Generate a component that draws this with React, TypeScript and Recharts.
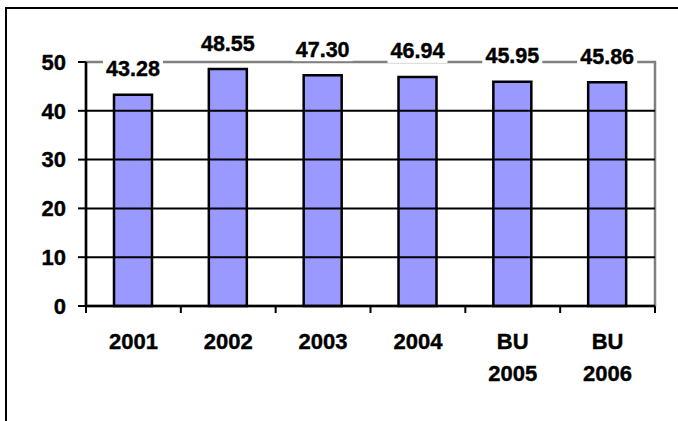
import { Bar, BarChart, LabelList, ReferenceArea, ReferenceLine, XAxis, YAxis } from "recharts";

const categories = ["2001", "2002", "2003", "2004", "BU\n2005", "BU\n2006"];
const values = [43.28, 48.55, 47.3, 46.94, 45.95, 45.86];
const yTicks = [0, 10, 20, 30, 40, 50];
const gridValues = [10, 20, 30, 40];

const chartData = categories.map((c, i) => ({ name: c, value: values[i] }));

const FONT = "'Liberation Sans', Arial, sans-serif";
const PLOT_LEFT = 86;
const PLOT_RIGHT = 655;
const BAND = (PLOT_RIGHT - PLOT_LEFT) / categories.length;

function XTick(props: any) {
  const { x, y, payload, index } = props;
  const lines = String(payload.value).split("\n");
  return (
    <g>
      <line x1={x - BAND / 2} y1={y} x2={x - BAND / 2} y2={y + 7} stroke="#000" strokeWidth={2} />
      {index === categories.length - 1 && (
        <line x1={x + BAND / 2} y1={y} x2={x + BAND / 2} y2={y + 7} stroke="#000" strokeWidth={2} />
      )}
      {lines.map((l, i) => (
        <text
          key={i}
          x={x}
          y={y + 43 + i * 32}
          textAnchor="middle"
          fontSize={22}
          fontWeight="bold"
          fontFamily={FONT}
          fill="#000"
          stroke="#000"
          strokeWidth={0.4}
        >
          {l}
        </text>
      ))}
    </g>
  );
}

function ValueLabel(props: any) {
  const { x, y, width, value } = props;
  const cx = x + width / 2;
  const cy = y - 26;
  return (
    <g>
      <rect x={cx - 30} y={cy - 12} width={60} height={24} fill="#fff" />
      <text
        x={cx}
        y={cy + 7.5}
        textAnchor="middle"
        fontSize={21.5}
        fontWeight="bold"
        fontFamily={FONT}
        fill="#000"
        stroke="#000"
        strokeWidth={0.4}
      >
        {Number(value).toFixed(2)}
      </text>
    </g>
  );
}

export default function App() {
  return (
    <div style={{ position: "absolute", left: 0, top: 0, width: 678, height: 421, overflow: "hidden", background: "#fff" }}>
      <div
        style={{
          position: "absolute",
          left: 5,
          top: 7,
          width: 720,
          height: 460,
          border: "2px solid #000",
        }}
      />
      <div style={{ position: "absolute", left: 0, top: 0 }}>
        <BarChart
          width={678}
          height={421}
          data={chartData}
          margin={{ top: 62, right: 678 - PLOT_RIGHT, bottom: 0, left: 0 }}
          barCategoryGap={0}
        >
          <ReferenceArea y1={0} y2={50} fill="none" stroke="#808080" strokeWidth={2.5} ifOverflow="visible" />
          {gridValues.map((v) => (
            <ReferenceLine key={v} y={v} stroke="#000" strokeWidth={2} />
          ))}
          <XAxis
            dataKey="name"
            height={115}
            tickLine={false}
            tickSize={0}
            tickMargin={0}
            axisLine={{ stroke: "#000", strokeWidth: 2.5 }}
            tick={<XTick />}
            interval={0}
          />
          <YAxis
            width={PLOT_LEFT}
            domain={[0, 50]}
            ticks={yTicks}
            tickSize={8}
            tickMargin={12}
            axisLine={{ stroke: "#000", strokeWidth: 2.5 }}
            tickLine={{ stroke: "#000", strokeWidth: 2 }}
            tick={{ fontSize: 22, fontWeight: "bold", fill: "#000", fontFamily: FONT, stroke: "#000", strokeWidth: 0.4 }}
          />
          <Bar dataKey="value" barSize={38} fill="#9999FF" stroke="#000" strokeWidth={2.5} isAnimationActive={false}>
            <LabelList dataKey="value" content={<ValueLabel />} />
          </Bar>
        </BarChart>
      </div>
    </div>
  );
}
